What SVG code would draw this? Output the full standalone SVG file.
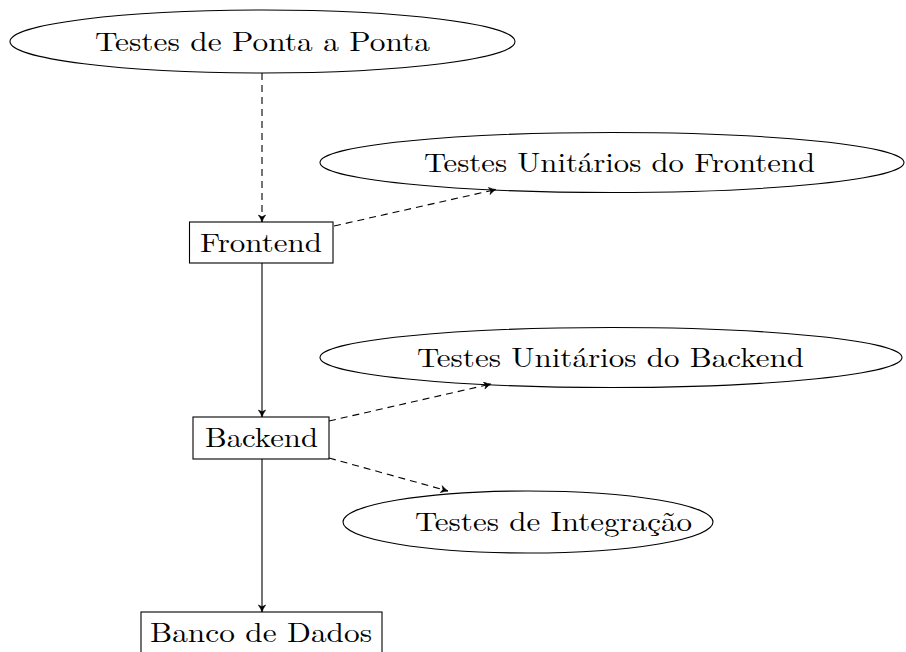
<svg xmlns="http://www.w3.org/2000/svg" width="906" height="652" viewBox="0 0 906 652">
  <style>
    .shape { fill: #ffffff; stroke: #000000; stroke-width: 1.1; }
    .label { font-family: "Latin Modern Roman", "Liberation Serif", "DejaVu Serif", serif; font-size: 27px; fill: #000000; text-anchor: middle; }
    .edge { fill: none; stroke: #000000; stroke-width: 1.1; }
    .dashed { stroke-dasharray: 7 5; }
  </style>
  <defs>
    <marker id="tip" viewBox="-8 -4 10 8" refX="0" refY="0" markerWidth="10" markerHeight="8" markerUnits="userSpaceOnUse" orient="auto">
      <path d="M-7,-3.6 Q-3,-0.8 0,0 Q-3,0.8 -7,3.6 L-5.2,0 Z" fill="#000000" stroke="#000000" stroke-width="0.6" stroke-linejoin="round"/>
    </marker>
  </defs>

  <!-- nodes -->
  <g id="e2e">
    <ellipse class="shape" cx="262.5" cy="41.5" rx="252.5" ry="31.5"/>
    <text class="label" x="262.5" y="51" textLength="335" lengthAdjust="spacingAndGlyphs">Testes de Ponta a Ponta</text>
  </g>
  <g id="frontend-unit">
    <ellipse class="shape" cx="612" cy="162.5" rx="292" ry="30"/>
    <text class="label" x="619.5" y="172" textLength="391" lengthAdjust="spacingAndGlyphs">Testes Unitários do Frontend</text>
  </g>
  <g id="frontend">
    <rect class="shape" x="189.5" y="222" width="143.5" height="41"/>
    <text class="label" x="261" y="252" textLength="122" lengthAdjust="spacingAndGlyphs">Frontend</text>
  </g>
  <g id="backend-unit">
    <ellipse class="shape" cx="611" cy="357.5" rx="291" ry="30"/>
    <text class="label" x="610.5" y="367" textLength="387" lengthAdjust="spacingAndGlyphs">Testes Unitários do Backend</text>
  </g>
  <g id="backend">
    <rect class="shape" x="193" y="417" width="136" height="42"/>
    <text class="label" x="261.5" y="447" textLength="113" lengthAdjust="spacingAndGlyphs">Backend</text>
  </g>
  <g id="integration">
    <ellipse class="shape" cx="528" cy="522" rx="185" ry="31"/>
    <text class="label" x="553.5" y="531" textLength="277" lengthAdjust="spacingAndGlyphs">Testes de Integração</text>
  </g>
  <g id="database">
    <rect class="shape" x="141" y="612" width="241" height="50"/>
    <text class="label" x="261" y="642" textLength="222" lengthAdjust="spacingAndGlyphs">Banco de Dados</text>
  </g>

  <!-- connectors -->
  <g id="connectors">
    <line class="edge dashed" x1="262" y1="73" x2="262" y2="222" marker-end="url(#tip)"/>
    <line class="edge" x1="262" y1="263" x2="262" y2="417" marker-end="url(#tip)"/>
    <line class="edge" x1="262" y1="459" x2="262" y2="612" marker-end="url(#tip)"/>
    <line class="edge dashed" x1="334" y1="226" x2="496" y2="189.5" marker-end="url(#tip)"/>
    <line class="edge dashed" x1="329" y1="421" x2="491" y2="384" marker-end="url(#tip)"/>
    <line class="edge dashed" x1="329" y1="458" x2="448" y2="491" marker-end="url(#tip)"/>
  </g>
</svg>
